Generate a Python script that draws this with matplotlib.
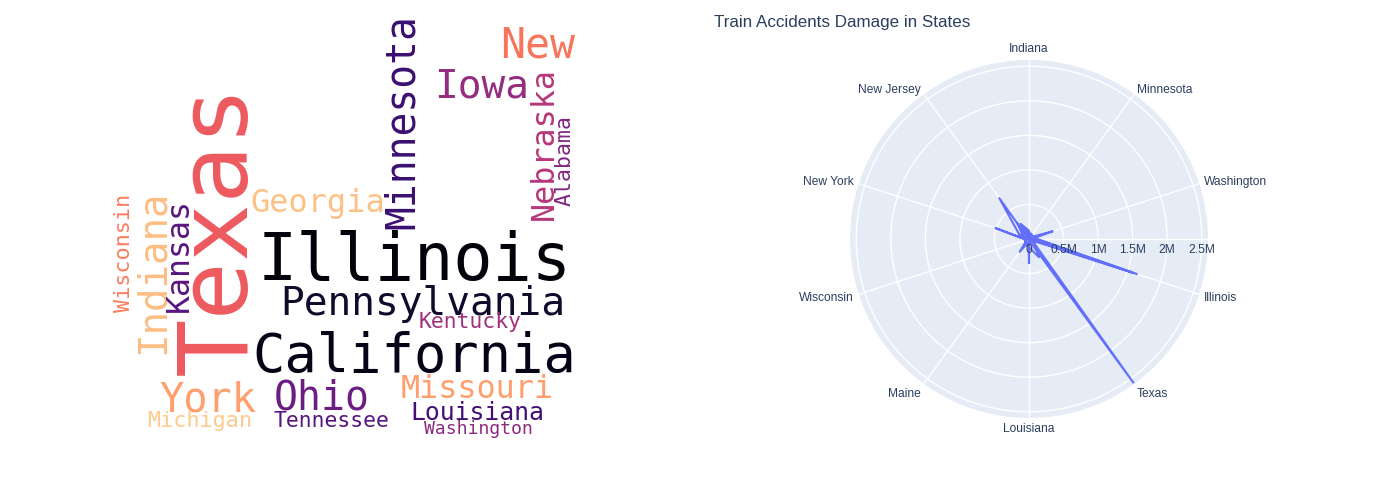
import numpy as np
import matplotlib
matplotlib.use("Agg")
import matplotlib.pyplot as plt
from matplotlib.transforms import offset_copy

# ---- word cloud data (relative word frequency, Texas = 1) ----
words = ["Texas", "Illinois", "California", "Pennsylvania", "Minnesota", "New",
         "Iowa", "Nebraska", "Alabama", "Georgia", "Indiana", "Kansas",
         "Wisconsin", "Kentucky", "York", "Ohio", "Missouri", "Louisiana",
         "Michigan", "Tennessee", "Washington"]
word_weight = [1.0, 0.673, 0.556, 0.407, 0.409, 0.428,
               0.406, 0.327, 0.222, 0.328, 0.404, 0.325,
               0.224, 0.22, 0.415, 0.411, 0.327, 0.255,
               0.224, 0.22, 0.187]
word_shade = [0.65, 0.02, 0.04, 0.08, 0.2, 0.71,
              0.42, 0.5, 0.37, 0.87, 0.86, 0.27,
              0.73, 0.45, 0.8, 0.32, 0.8, 0.22,
              0.89, 0.27, 0.4]

# placement produced by the cloud layout (canvas pixels, rotation)
cloud_layout = [(219, 229, 90), (415, 262, 0), (414, 357, 0), (423, 304, 0),
                (403, 122, 90), (538, 45, 0), (482, 87, 0), (544, 143, 90),
                (564.5, 161, 90), (318, 203.5, 0), (153, 272, 90), (179, 255, 90),
                (124.5, 253, 90), (470, 322, 0), (208, 400, 0), (322, 399, 0),
                (477, 389.5, 0), (477, 413, 0), (200, 421, 0), (331, 421, 0),
                (478, 429, 0)]

# ---- polar chart data ----
states = ["Indiana", "Ohio", "Michigan", "Iowa", "Nebraska",
          "Minnesota", "North Dakota", "Montana", "Idaho", "Oregon",
          "Washington", "California", "Nevada", "Utah", "Kansas",
          "Illinois", "Missouri", "Oklahoma", "Arkansas", "New Mexico",
          "Texas", "Arizona", "Colorado", "Wyoming", "Mississippi",
          "Louisiana", "Alabama", "Georgia", "Florida", "South Carolina",
          "Maine", "Vermont", "New Hampshire", "Massachusetts", "Connecticut",
          "Wisconsin", "Kentucky", "Tennessee", "West Virginia", "Pennsylvania",
          "New York", "Maryland", "Virginia", "North Carolina", "Delaware",
          "New Jersey", "Rhode Island", "South Dakota", "Alaska", "Hawaii"]

path_states = ["Indiana", "Ohio", "Iowa", "Minnesota", "Washington", "California",
               "Illinois", "Missouri", "Texas", "Mississippi", "Louisiana", "Alabama",
               "Maine", "Wisconsin", "Kentucky", "New York", "Pennsylvania",
               "New Jersey", "Delaware", "Illinois", "Kansas", "New Jersey",
               "Georgia", "Arizona", "Nebraska", "New Jersey", "Tennessee",
               "Indiana", "Rhode Island", "Oklahoma", "Maryland"]
path_damage = [0.06, 0.02, 0.05, 0.03, 0.36, 0.08,
               1.64, 0.05, 2.57, 0.02, 0.35, 0.04,
               0.23, 0.03, 0.05, 0.51, 0.12,
               0.73, 0.06, 1.58, 0.04, 0.29,
               0.10, 0.30, 0.08, 0.20, 0.07,
               0.12, 0.25, 0.06, 0.15]  # millions USD

radial_ticks = [0, 0.5, 1, 1.5, 2, 2.5]
radial_labels = ["0", "0.5M", "1M", "1.5M", "2M", "2.5M"]

TXT = "#2a3f5f"
fig = plt.figure(figsize=(13.79, 5.0), dpi=100)

# ---- word cloud ----
axw = fig.add_axes([0, 0, 0.5, 1])
axw.set_xlim(0, 689.5)
axw.set_ylim(500, 0)
axw.axis("off")
cmap = plt.get_cmap("magma")
for w, wt, sh, (x, y, rot) in zip(words, word_weight, word_shade, cloud_layout):
    axw.text(x, y, w, fontsize=97 * wt * 0.72, color=cmap(sh),
             family="DejaVu Sans Mono", rotation=rot,
             ha="center", va="center")

# ---- polar line chart ----
ax = fig.add_axes([0.6164, 0.164, 0.2596, 0.716], projection="polar")
ax.set_theta_zero_location("N")
ax.set_theta_direction(-1)
ax.set_facecolor("#E5ECF6")
ax.spines["polar"].set_visible(False)
rmax = 2.59e6
ax.set_ylim(0, rmax)
ax.set_yticks([v * 1e6 for v in radial_ticks[1:]])
ax.set_yticklabels([])

n = len(states)
idx = {s: i for i, s in enumerate(states)}
tick_states = states[::5]
ax.set_xticks([2 * np.pi * idx[s] / n for s in tick_states])
ax.set_xticklabels([])
ax.grid(color="white", lw=1)
ax.plot([np.pi / 2, np.pi / 2], [0, rmax], color="white", lw=1, zorder=1.6)

theta = [2 * np.pi * idx[s] / n for s in path_states]
r = np.array(path_damage) * 1e6
ax.plot(theta, r, color="#636EFA", lw=1.5, solid_joinstyle="round", zorder=3)

for v, lbl in zip(radial_ticks, radial_labels):
    tr = offset_copy(ax.transData, fig=fig, y=-11, units="dots")
    ax.text(np.pi / 2, v * 1e6, lbl, transform=tr, ha="center", va="center",
            fontsize=8.64, color=TXT, family="Liberation Sans", zorder=4)

for s in tick_states:
    th = 2 * np.pi * idx[s] / n
    a = np.pi / 2 - th
    ca, sa = np.cos(a), np.sin(a)
    ha = "left" if ca > 0.2 else ("right" if ca < -0.2 else "center")
    if sa > 0.9:
        va, extra = "bottom", 0
    elif sa < -0.9:
        va, extra = "top", 0
    else:
        va, extra = "center", -8 * max(0, -sa)
    tr = offset_copy(ax.transData, fig=fig, x=5 * ca, y=5 * sa + extra, units="dots")
    ax.text(th, rmax, s, transform=tr, ha=ha, va=va, fontsize=8.64,
            color=TXT, family="Liberation Sans")

fig.text(714 / 1379, 1 - 23 / 500, "Train Accidents Damage in States",
         ha="left", va="center", fontsize=12.24, color=TXT, family="Liberation Sans")

fig.savefig("out.png", dpi=100)
